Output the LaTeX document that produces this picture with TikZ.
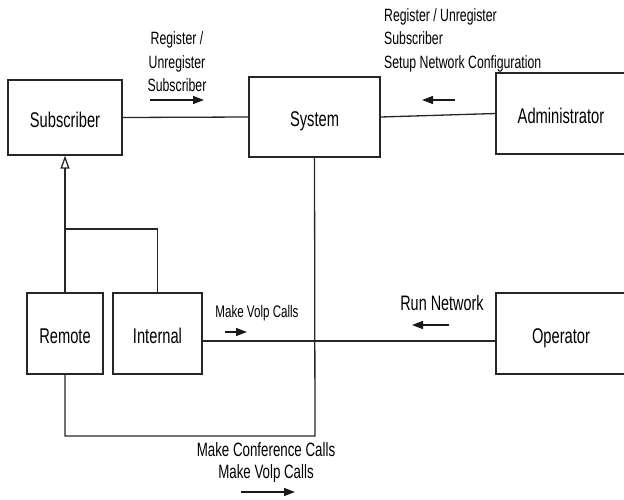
\documentclass[tikz,border=0pt]{standalone}
\usepackage{fontspec}
\newfontfamily\nar[FakeStretch=0.69]{Liberation Sans}
\usetikzlibrary{arrows.meta}
\begin{document}
\begin{tikzpicture}[x=1pt,y=-1pt,
  box/.style={draw=black!85,line width=1.3pt,inner sep=0pt,text height=20pt,text depth=1pt,font=\nar\fontsize{21.3}{25}\selectfont},
  conn/.style={draw=black!85,line width=1.3pt},
  flow/.style={draw=black!90,line width=1.3pt,-{Triangle[length=11pt,width=8pt]}},
  lbl/.style={inner sep=0pt,font=\nar\fontsize{17.8}{23.5}\selectfont}]
\useasboundingbox (0,0) rectangle (624,499);
\clip (0,0) rectangle (624,499);
\node[box,minimum width=114pt,minimum height=75pt] (sub) at (65,117.5) {Subscriber};
\node[box,minimum width=131pt,minimum height=80pt] (sys) at (314.5,117) {System};
\node[box,minimum width=130pt,minimum height=81pt] (adm) at (561,113.5) {Administrator};
\node[box,minimum width=76pt,minimum height=81pt] (rem) at (65,333.5) {Remote};
\node[box,minimum width=89pt,minimum height=81pt] (int) at (157.5,333.5) {Internal};
\node[box,minimum width=130pt,minimum height=81pt] (opr) at (561,333.5) {Operator};
% connectors
\draw[conn] (sub.east) -- (sys.west);
\draw[conn] (sys.east) -- (adm.west);
\draw[conn,-{Triangle[open,length=13pt,width=9pt]}] (rem.north) -- (sub.south);
\coordinate (j) at (65,229);
\draw[conn] (int.north) -- (int.north |- j) -- (j);
\draw[conn] ([yshift=-7.5pt]int.east) -- ([yshift=-7.5pt]int.east -| opr.west);
\coordinate (br) at (315,436);
\draw[conn] (rem.south) -- (rem.south |- br) -- (br) -- (sys.south);
% labels
\node[lbl,align=center] (l1) at (177,62) {Register /\\Unregister\\Subscriber};
\node[lbl,align=left,anchor=west] (l2) at (384,40) {Register / Unregister\\Subscriber\\Setup Network Configuration};
\node[lbl,font=\nar\fontsize{16.8}{20}\selectfont] (l3) at (257,313) {Make Volp Calls};
\node[lbl,font=\nar\fontsize{20.9}{24}\selectfont] (l4) at (442,303) {Run Network};
\node[lbl,align=center,font=\nar\fontsize{19.3}{22}\selectfont] (l5) at (266,463) {Make Conference Calls\\Make Volp Calls};
% direction arrows
\coordinate (a1s) at (150,100); \coordinate (a1e) at (204,100);
\coordinate (a2s) at (455,100); \coordinate (a2e) at (422,100);
\coordinate (a3s) at (225,332); \coordinate (a3e) at (247,332);
\coordinate (a4s) at (449,325); \coordinate (a4e) at (412,325);
\coordinate (a5s) at (241,492); \coordinate (a5e) at (295,492);
\draw[flow] (a1s) -- (a1e);
\draw[flow] (a2s) -- (a2e);
\draw[flow] (a3s) -- (a3e);
\draw[flow] (a4s) -- (a4e);
\draw[flow] (a5s) -- (a5e);
\end{tikzpicture}
\end{document}
